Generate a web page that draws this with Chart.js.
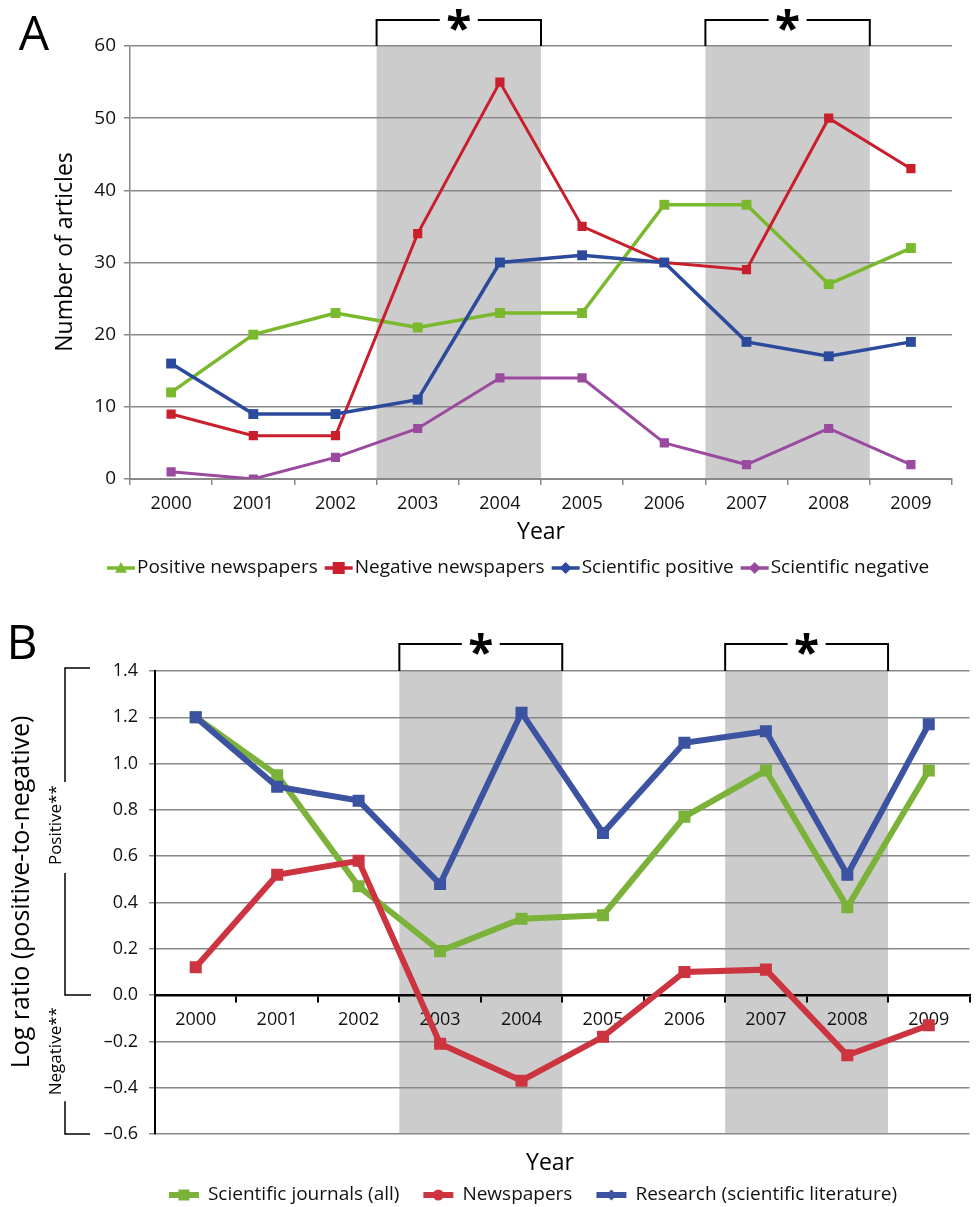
<!DOCTYPE html>
<html lang="en">
<head>
<meta charset="UTF-8">
<title>Articles by year, panels A and B</title>
<script src="https://cdn.jsdelivr.net/npm/chart.js"></script>
<style>
  body { margin: 0; background: #fff; }
  canvas { position: absolute; left: 0; }
</style>
</head>
<body>
<canvas id="chartA" width="978" height="590" style="top:0"></canvas>
<canvas id="chartB" width="978" height="617" style="top:590px"></canvas>
<script>
const years = ['2000', '2001', '2002', '2003', '2004', '2005', '2006', '2007', '2008', '2009'];
const shadedYears = [['2003', '2004'], ['2007', '2008']];

// Panel A: number of articles
const posNewspapers = [12, 20, 23, 21, 23, 23, 38, 38, 27, 32];
const negNewspapers = [9, 6, 6, 34, 55, 35, 30, 29, 50, 43];
const sciPositive = [16, 9, 9, 11, 30, 31, 30, 19, 17, 19];
const sciNegative = [1, 0, 3, 7, 14, 14, 5, 2, 7, 2];
const ticksA = [0, 10, 20, 30, 40, 50, 60];

// Panel B: log ratio positive-to-negative
const logJournals = [1.2, 0.95, 0.47, 0.19, 0.33, 0.345, 0.77, 0.97, 0.38, 0.97];
const logNewspapers = [0.12, 0.52, 0.58, -0.21, -0.37, -0.18, 0.10, 0.11, -0.26, -0.13];
const logResearch = [1.2, 0.9, 0.84, 0.48, 1.22, 0.70, 1.09, 1.14, 0.52, 1.17];
const ticksB = [-0.6, -0.4, -0.2, 0, 0.2, 0.4, 0.6, 0.8, 1.0, 1.2, 1.4];
const sideLabels = ['Positive**', 'Negative**'];

const FONT = '"Open Sans", "Noto Sans", sans-serif';
Chart.defaults.font.family = FONT;
Chart.defaults.color = '#111';

function drawMarker(ctx, style, x, y, r) {
  ctx.beginPath();
  if (style === 'triangle') {
    ctx.moveTo(x, y - r); ctx.lineTo(x + r, y + r * 0.8); ctx.lineTo(x - r, y + r * 0.8);
  } else if (style === 'rectRot') {
    ctx.moveTo(x, y - r); ctx.lineTo(x + r, y); ctx.lineTo(x, y + r); ctx.lineTo(x - r, y);
  } else if (style === 'circle') {
    ctx.arc(x, y, r, 0, Math.PI * 2);
  } else {
    ctx.rect(x - r, y - r, 2 * r, 2 * r);
  }
  ctx.closePath();
  ctx.fill();
}

function bandEdges(chart) {
  const x = chart.scales.x;
  const w = x.getPixelForValue(1) - x.getPixelForValue(0);
  return shadedYears.map(([s, e]) => [
    x.getPixelForValue(years.indexOf(s)) - w / 2,
    x.getPixelForValue(years.indexOf(e)) + w / 2
  ]);
}

const decor = {
  id: 'decor',
  beforeDraw(chart) {
    const { ctx, chartArea: a } = chart;
    ctx.save();
    ctx.fillStyle = '#cccccc';
    bandEdges(chart).forEach(([l, r]) => ctx.fillRect(l, a.top, r - l, a.bottom - a.top));
    ctx.restore();
  },
  afterDraw(chart, args, o) {
    const { ctx, chartArea: a } = chart;
    ctx.save();

    // brackets with asterisk over the shaded periods
    const ty = a.top - o.bracketRise;
    ctx.strokeStyle = '#000';
    ctx.lineWidth = 2;
    ctx.font = 'bold 46px ' + FONT;
    ctx.fillStyle = '#000';
    ctx.textAlign = 'center';
    ctx.textBaseline = 'alphabetic';
    bandEdges(chart).forEach(([l, r]) => {
      const m = (l + r) / 2;
      ctx.beginPath();
      ctx.moveTo(l, a.top); ctx.lineTo(l, ty); ctx.lineTo(m - 19, ty);
      ctx.moveTo(m + 19, ty); ctx.lineTo(r, ty); ctx.lineTo(r, a.top);
      ctx.stroke();
      const mt = ctx.measureText('*');
      const base = ty - (mt.actualBoundingBoxDescent - mt.actualBoundingBoxAscent) / 2;
      ctx.fillText('*', m, base);
    });

    // panel letter
    ctx.textBaseline = 'middle';
    ctx.font = '48px ' + FONT;
    ctx.fillText(o.letter, o.letterPos[0], o.letterPos[1]);

    // axis titles
    ctx.font = '23px ' + FONT;
    ctx.fillText(o.xTitle, o.xTitlePos[0], o.xTitlePos[1]);
    ctx.save();
    ctx.translate(o.yTitlePos[0], o.yTitlePos[1]);
    ctx.rotate(-Math.PI / 2);
    ctx.font = o.yTitleSize + 'px ' + FONT;
    ctx.fillText(o.yTitle, 0, 0);
    ctx.restore();

    // side notes (positive / negative range)
    if (o.sideNotes) {
      const y = chart.scales.y;
      const top = y.getPixelForValue(ticksB[ticksB.length - 1]) - 3;
      const zero = y.getPixelForValue(0);
      const bot = y.getPixelForValue(ticksB[0]);
      const lx = 65, tx = 56;
      ctx.font = '17px ' + FONT;
      const wp = ctx.measureText(sideLabels[0]).width;
      const wn = ctx.measureText(sideLabels[1]).width;
      const pc = zero - 170;
      const nc = zero + 12 + wn / 2;
      ctx.lineWidth = 1.5;
      ctx.beginPath();
      ctx.moveTo(90, top); ctx.lineTo(lx, top); ctx.lineTo(lx, pc - wp / 2 - 3);
      ctx.moveTo(lx, pc + wp / 2 + 8); ctx.lineTo(lx, zero); ctx.lineTo(91, zero);
      ctx.moveTo(lx, nc + wn / 2 + 6); ctx.lineTo(lx, bot); ctx.lineTo(90, bot);
      ctx.stroke();
      [[sideLabels[0], pc], [sideLabels[1], nc]].forEach(([t, c]) => {
        ctx.save();
        ctx.translate(tx, c);
        ctx.rotate(-Math.PI / 2);
        ctx.fillText(t, 0, 0);
        ctx.restore();
      });
    }

    // legend
    ctx.font = o.legendSize + 'px ' + FONT;
    ctx.textAlign = 'left';
    const items = chart.data.datasets.map(d => ({
      label: d.label, color: d.borderColor, marker: d.legendMarker,
      w: o.segLen + o.textGap + ctx.measureText(d.label).width
    }));
    const total = items.reduce((s, it) => s + it.w, 0) + o.itemGap * (items.length - 1);
    let cx = o.legendCenter - total / 2;
    items.forEach(it => {
      ctx.strokeStyle = it.color;
      ctx.fillStyle = it.color;
      ctx.lineWidth = o.segWidth;
      ctx.beginPath();
      ctx.moveTo(cx, o.legendY); ctx.lineTo(cx + o.segLen, o.legendY);
      ctx.stroke();
      drawMarker(ctx, it.marker, cx + o.segLen / 2, o.legendY, o.markerR);
      ctx.fillStyle = '#111';
      ctx.fillText(it.label, cx + o.segLen + o.textGap, o.legendY);
      cx += it.w + o.itemGap;
    });
    ctx.restore();
  }
};

function series(label, data, color, width, radius, marker, order) {
  return {
    label: label, data: data, borderColor: color, backgroundColor: color,
    borderWidth: width, pointStyle: 'rect', pointRadius: radius,
    pointBackgroundColor: color, pointBorderColor: color, pointBorderWidth: 0,
    tension: 0, legendMarker: marker, order: order
  };
}

new Chart(document.getElementById('chartA'), {
  type: 'line',
  data: {
    labels: years,
    datasets: [
      series('Positive newspapers', posNewspapers, '#7ab82e', 3.5, 7, 'triangle', 3),
      series('Negative newspapers', negNewspapers, '#c91f2c', 3, 6.5, 'rect', 2),
      series('Scientific positive', sciPositive, '#2b4a9c', 3.5, 7, 'rectRot', 1),
      series('Scientific negative', sciNegative, '#9b4b9f', 3, 6.5, 'rectRot', 0)
    ]
  },
  options: {
    responsive: false, animation: false, devicePixelRatio: 1,
    layout: { padding: { top: 46, right: 26, bottom: 71, left: 0 } },
    plugins: {
      legend: { display: false }, tooltip: { enabled: false },
      decor: {
        letter: 'A', letterPos: [34, 36], xTitle: 'Year', xTitlePos: [541, 532],
        yTitle: 'Number of articles', yTitlePos: [65, 252], yTitleSize: 23,
        legendY: 568, legendCenter: 518, legendSize: 19, segLen: 28, segWidth: 3.5, markerR: 6,
        textGap: 2, itemGap: 7, bracketRise: 26
      }
    },
    scales: {
      x: {
        offset: true,
        grid: { offset: true, drawOnChartArea: false, color: '#888', lineWidth: 1.5, tickLength: 6 },
        border: { color: '#888', width: 2 },
        ticks: { font: { size: 18 }, padding: 8, maxRotation: 0, autoSkip: false },
        afterFit: s => { s.height = 40; }
      },
      y: {
        min: 0, max: 60,
        afterBuildTicks: s => { s.ticks = ticksA.map(v => ({ value: v })); },
        grid: { color: '#888', lineWidth: 1.5, tickLength: 6 },
        border: { color: '#888', width: 1.5 },
        ticks: { font: { size: 19 }, padding: 8, callback: v => v },
        afterFit: s => { s.width = 130; }
      }
    }
  },
  plugins: [decor]
});

new Chart(document.getElementById('chartB'), {
  type: 'line',
  data: {
    labels: years,
    datasets: [
      series('Scientific journals (all)', logJournals, '#7bb23a', 6, 8.5, 'rect', 2),
      series('Newspapers', logNewspapers, '#cc3440', 6, 8.5, 'circle', 1),
      series('Research (scientific literature)', logResearch, '#3b53a0', 6, 8.5, 'rectRot', 0)
    ]
  },
  options: {
    responsive: false, animation: false, devicePixelRatio: 1,
    layout: { padding: { top: 81, right: 7, bottom: 73, left: 0 } },
    plugins: {
      legend: { display: false }, tooltip: { enabled: false },
      decor: {
        letter: 'B', letterPos: [22, 55], xTitle: 'Year', xTitlePos: [550, 573],
        yTitle: 'Log ratio (positive-to-negative)', yTitlePos: [22, 302], yTitleSize: 25,
        legendY: 605, legendCenter: 533, legendSize: 19, segLen: 30, segWidth: 6, markerR: 5.5,
        textGap: 9, itemGap: 24, bracketRise: 27, sideNotes: true
      }
    },
    scales: {
      x: {
        position: { y: 0 },
        offset: true,
        grid: { offset: true, drawOnChartArea: false, color: '#000', lineWidth: 2, tickLength: 6 },
        border: { color: '#000', width: 2.5 },
        ticks: { font: { size: 18 }, padding: 8, maxRotation: 0, autoSkip: false }
      },
      y: {
        min: -0.6, max: 1.4,
        afterBuildTicks: s => { s.ticks = ticksB.map(v => ({ value: v })); },
        grid: { color: '#888', lineWidth: 1.5, tickLength: 6 },
        border: { color: '#000', width: 2 },
        ticks: { font: { size: 18 }, padding: 11, callback: v => (+v).toFixed(1).replace('-', '\u2013') },
        afterFit: s => { s.width = 155; }
      }
    }
  },
  plugins: [decor]
});
</script>
</body>
</html>
